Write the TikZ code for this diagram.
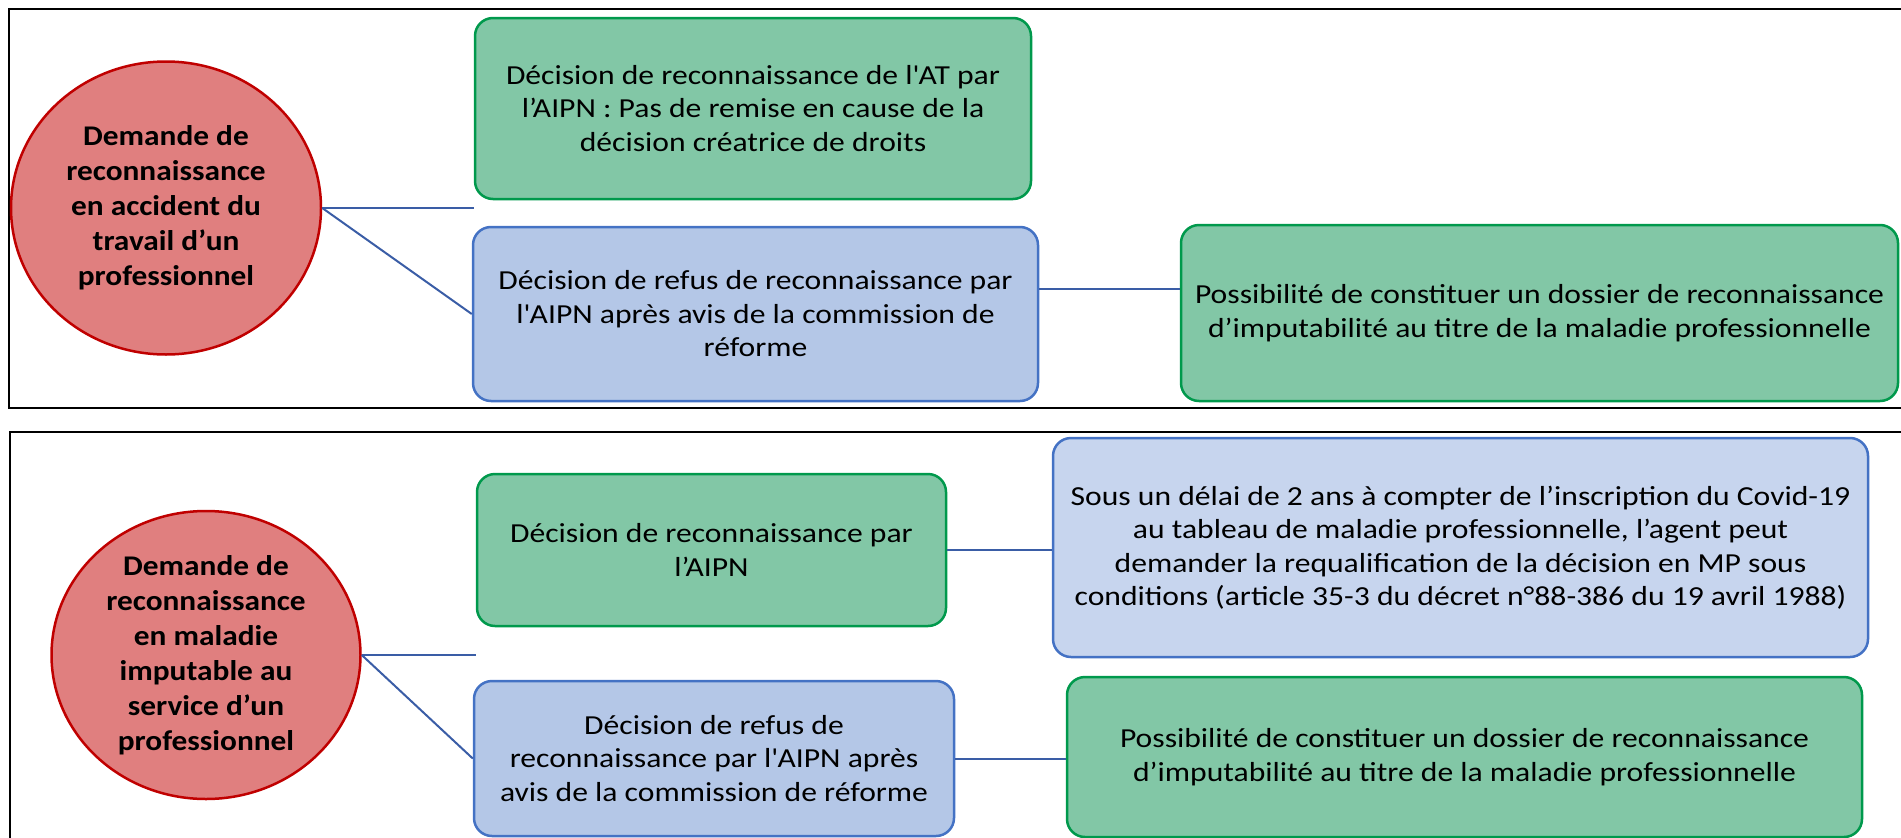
\documentclass[tikz,border=0pt]{standalone}
\usepackage{fontspec}
\setmainfont{Carlito}
\newfontfamily\boitefont{Carlito}[FakeStretch=1.15]
\newfontfamily\demandefont{Carlito}[FakeStretch=1.1]
\usepackage{xcolor}
\usetikzlibrary{shapes.geometric,positioning}

\definecolor{rougefond}{HTML}{E07F7F}
\definecolor{rougebord}{HTML}{C00000}
\definecolor{vertfond}{HTML}{82C7A6}
\definecolor{vertbord}{HTML}{00994C}
\definecolor{bleufond}{HTML}{B4C7E7}
\definecolor{bleuclair}{HTML}{C7D5EE}
\definecolor{bleubord}{HTML}{4472C4}
\definecolor{lienbleu}{HTML}{3A5DA6}

\begin{document}
\begin{tikzpicture}[
    x=1pt, y=-1pt,
    demande/.style={ellipse, draw=rougebord, fill=rougefond, line width=2.5pt, inner sep=0pt, align=center, font=\demandefont\bfseries\fontsize{28.5}{35}\selectfont},
    vertbox/.style={rectangle, rounded corners=18pt, draw=vertbord, fill=vertfond, line width=2.5pt, inner sep=0pt, align=center, font=\boitefont\fontsize{27.5}{33.5}\selectfont},
    bleubox/.style={vertbox, draw=bleubord, fill=bleufond},
    lien/.style={draw=lienbleu, line width=2pt},
    cadre/.style={draw=black, line width=2pt}
]
\useasboundingbox (0,0) rectangle (1901,838);

% Frames
\draw[cadre] (9,9) rectangle (1930,408);
\draw[cadre] (10,432) rectangle (1930,860);

% Nodes (top)
\node[demande, minimum width=310pt, minimum height=293pt] (at1) at (166,208) {Demande de\\reconnaissance\\en accident du\\travail d’un\\professionnel};
\node[vertbox, minimum width=556pt, minimum height=181pt] (recoat) at (753,108.5) {Décision de reconnaissance de l\textquotesingle AT par\\l’AIPN : Pas de remise en cause de la\\décision créatrice de droits};
\node[bleubox, minimum width=565pt, minimum height=174pt] (refusat) at (755.5,314) {Décision de refus de reconnaissance par\\l\textquotesingle AIPN après avis de la commission de\\réforme};
\node[vertbox, minimum width=717pt, minimum height=176pt] (dossierat) at (1539.5,313) {Possibilité de constituer un dossier de reconnaissance\\d’imputabilité au titre de la maladie professionnelle};

% Nodes (bottom)
\node[demande, minimum width=309pt, minimum height=288pt] (mal1) at (206,655) {Demande de\\reconnaissance\\en maladie\\imputable au\\service d’un\\professionnel};
\node[vertbox, minimum width=469pt, minimum height=152pt] (recomal) at (711.5,550) {Décision de reconnaissance par\\l’AIPN};
\node[bleubox, fill=bleuclair, minimum width=815pt, minimum height=219pt] (delai) at (1460.5,547.5) {Sous un délai de 2 ans à compter de l’inscription du Covid-19\\au tableau de maladie professionnelle, l’agent peut\\demander la requalification de la décision en MP sous\\conditions (article 35-3 du décret n°88-386 du 19 avril 1988)};
\node[bleubox, minimum width=480pt, minimum height=155pt] (refusmal) at (714,758.5) {Décision de refus de\\reconnaissance par l\textquotesingle AIPN après\\avis de la commission de réforme};
\node[vertbox, minimum width=795pt, minimum height=160pt] (dossiermal) at (1464.5,757) {Possibilité de constituer un dossier de reconnaissance\\d’imputabilité au titre de la maladie professionnelle};

% Lines
\draw[lien] (at1.east) -- (at1.east -| recoat.west);
\draw[lien] (at1.east) -- (refusat.west);
\draw[lien] ([yshift=25pt]refusat.east) -- ([yshift=25pt]refusat.east -| dossierat.west);
\draw[lien] (mal1.east) -- (mal1.east -| recomal.west);
\draw[lien] (mal1.east) -- (refusmal.west);
\draw[lien] (recomal.east) -- (recomal.east -| delai.west);
\draw[lien] (refusmal.east) -- (refusmal.east -| dossiermal.west);

\end{tikzpicture}
\end{document}
